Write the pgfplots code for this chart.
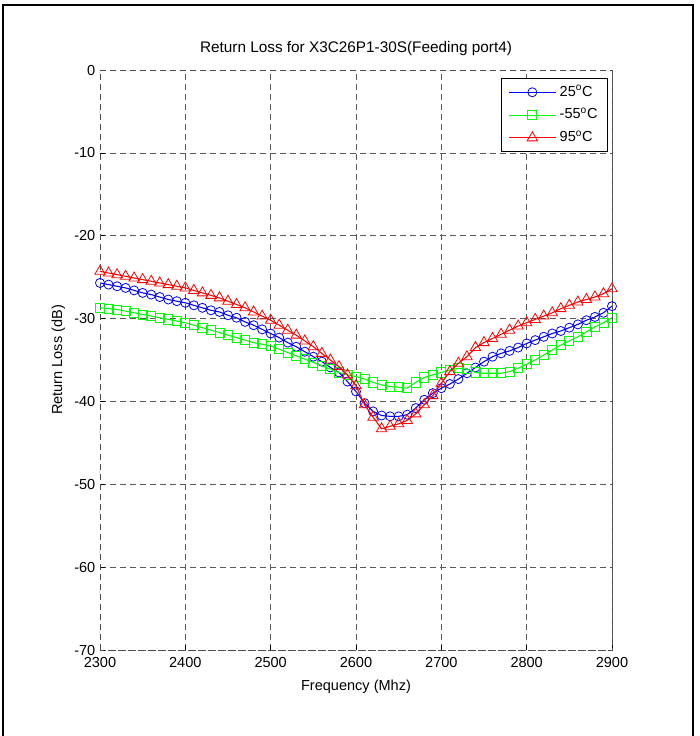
\documentclass[border=0pt]{standalone}
\usepackage{fontspec}
\setmainfont{Liberation Sans}
\usepackage{pgfplots}
\usepackage{pgfplotstable}
\pgfplotsset{compat=1.18}

\pgfplotstableread{
f b g r
2300 -25.7 -28.7 -24.3
2310 -25.9 -28.8 -24.5
2320 -26.1 -28.9 -24.7
2330 -26.3 -29.1 -24.9
2340 -26.6 -29.3 -25.1
2350 -26.9 -29.5 -25.3
2360 -27.1 -29.7 -25.5
2370 -27.4 -29.9 -25.7
2380 -27.7 -30.1 -25.9
2390 -27.9 -30.3 -26.1
2400 -28.1 -30.5 -26.3
2410 -28.4 -30.8 -26.6
2420 -28.7 -31.1 -26.9
2430 -29.0 -31.4 -27.2
2440 -29.2 -31.7 -27.5
2450 -29.6 -32.0 -27.9
2460 -29.9 -32.3 -28.3
2470 -30.4 -32.6 -28.7
2480 -30.8 -32.9 -29.2
2490 -31.3 -33.1 -29.7
2500 -31.8 -33.3 -30.2
2510 -32.3 -33.7 -30.8
2520 -32.9 -34.1 -31.4
2530 -33.4 -34.5 -32.0
2540 -34.0 -34.9 -32.7
2550 -34.6 -35.3 -33.4
2560 -35.2 -35.7 -34.2
2570 -35.9 -36.1 -35.0
2580 -36.5 -36.5 -35.8
2590 -37.6 -36.8 -36.8
2600 -38.8 -37.0 -38.1
2610 -40.2 -37.3 -40.4
2620 -41.2 -37.7 -41.9
2630 -41.7 -38.0 -43.3
2640 -41.8 -38.2 -43.0
2650 -41.8 -38.3 -42.7
2660 -41.6 -38.4 -42.3
2670 -40.8 -37.7 -41.5
2680 -39.8 -37.1 -40.4
2690 -39.0 -36.8 -39.3
2700 -38.4 -36.5 -37.8
2710 -37.9 -36.2 -36.4
2720 -37.3 -36.0 -35.4
2730 -36.6 -36.1 -34.6
2740 -35.9 -36.5 -33.5
2750 -35.2 -36.6 -32.9
2760 -34.6 -36.6 -32.4
2770 -34.2 -36.6 -31.9
2780 -33.9 -36.4 -31.4
2790 -33.5 -36.0 -30.9
2800 -33.0 -35.5 -30.5
2810 -32.6 -35.0 -30.1
2820 -32.2 -34.4 -29.7
2830 -31.8 -33.8 -29.3
2840 -31.5 -33.2 -28.8
2850 -31.1 -32.7 -28.4
2860 -30.7 -32.2 -28.0
2870 -30.2 -31.6 -27.7
2880 -29.8 -31.0 -27.4
2890 -29.3 -30.5 -27.0
2900 -28.5 -29.9 -26.4
}\datatable

\begin{document}
\begin{tikzpicture}[font=\fontsize{10.9}{13}\selectfont]
\useasboundingbox (0,0) rectangle (525pt,552pt);
\fill[white] (0,0) rectangle (525pt,552pt);
\draw[line width=1.5pt] (2.25pt,-2pt) -- (2.25pt,548.5pt) -- (519.75pt,548.5pt) -- (519.75pt,-2pt);
\begin{axis}[
  at={(75pt,64.5pt)}, anchor=south west,
  scale only axis, width=384pt, height=435pt,
  xmin=2300, xmax=2900, ymin=-70, ymax=0,
  xtick={2300,2400,...,2900}, ytick={-70,-60,...,0},
  /pgf/number format/assume math mode=true,
  /pgf/number format/1000 sep={},
  grid=major,
  grid style={black!65, line width=0.5pt, dash pattern=on 4.5pt off 3pt},
  axis line style={black!70, line width=0.5pt, dash pattern=on 4.5pt off 3pt},
  tick align=inside, major tick length=3.75pt,
  tick style={black, solid, line width=0.5pt},
  xtick pos=bottom, ytick pos=left,
  xticklabel style={yshift=-2pt},
  clip mode=individual,
  title={Return Loss for X3C26P1-30S(Feeding port4)},
  title style={at={(0.5,1)}, anchor=base, yshift=7pt, font=\fontsize{11.5}{13}\selectfont},
  xlabel={Frequency (Mhz)},
  xlabel style={at={(0.5,0)}, anchor=base, yshift=-30pt},
  ylabel={Return Loss (dB)},
  ylabel style={at={(axis description cs:-0.0742,0.5)}, anchor=base, rotate=0},
  legend cell align=left,
  legend style={at={(0.992,0.986)}, anchor=north east, draw=black, line width=0.6pt,
    fill=white, inner xsep=5pt, inner ysep=3pt, row sep=2.5pt,
    nodes={inner sep=2.5pt, text height=7.6pt, text depth=2pt}},
  legend image code/.code={\draw[mark repeat=2,mark phase=2,#1] plot coordinates {(0pt,0pt) (17.6pt,0pt) (35.2pt,0pt)};},
]
\addplot[color=blue, line width=0.8pt, mark=o, mark size=3.4pt, mark options={solid, line width=0.6pt}] table[x=f, y=b] {\datatable};
\addlegendentry{25\textsuperscript{o}C}
\addplot[color=green, line width=0.8pt, mark=square, mark size=3.4pt, mark options={solid, line width=0.6pt}] table[x=f, y=g] {\datatable};
\addlegendentry{-55\textsuperscript{o}C}
\addplot[color=red, line width=0.8pt, mark=triangle, mark size=4.5pt, mark options={solid, line width=0.6pt}] table[x=f, y=r] {\datatable};
\addlegendentry{95\textsuperscript{o}C}
\end{axis}
\end{tikzpicture}
\end{document}
